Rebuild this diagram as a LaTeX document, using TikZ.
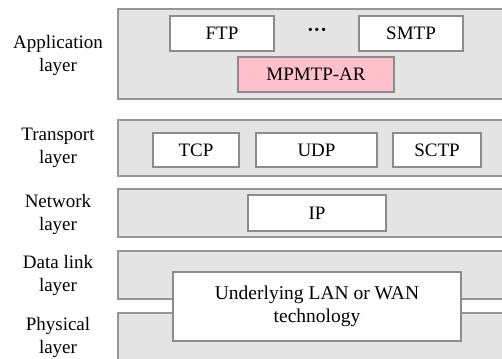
\documentclass[tikz,border=0pt]{standalone}
\usepackage{fontspec}
\setmainfont{Liberation Serif}
\definecolor{bandfill}{RGB}{228,228,228}
\definecolor{bandline}{RGB}{150,150,150}
\definecolor{boxline}{RGB}{140,140,140}
\definecolor{pinkfill}{RGB}{255,192,203}
\begin{document}
\begin{tikzpicture}[x=1pt,y=-1pt,
  bandfillst/.style={fill=bandfill},
  band/.style={draw=bandline,line width=1.1pt},
  pbox/.style={draw=boxline,fill=white,line width=1.1pt,inner sep=0pt,font=\fontsize{19}{23}\selectfont},
  lab/.style={align=center,font=\fontsize{19}{23}\selectfont,inner sep=0pt}]
\useasboundingbox (0,0) rectangle (502,358);
\clip (0,0) rectangle (502,358);
% bands
\fill[bandfillst] (118,9) rectangle (510,99);
\draw[band] (510,9) -- (118,9) -- (118,99) -- (510,99);
\fill[bandfillst] (118,120) rectangle (510,176);
\draw[band] (510,120) -- (118,120) -- (118,176) -- (510,176);
\fill[bandfillst] (118,189) rectangle (510,237);
\draw[band] (510,189) -- (118,189) -- (118,237) -- (510,237);
\fill[bandfillst] (118,251) rectangle (510,299);
\draw[band] (510,251) -- (118,251) -- (118,299) -- (510,299);
\fill[bandfillst] (118,313) rectangle (510,370);
\draw[band] (510,313) -- (118,313) -- (118,370);
% labels
\node[lab] (lapp) at (58,55) {Application\\layer};
\node[lab] (ltra) at (58,148) {Transport\\layer};
\node[lab] (lnet) at (58,214) {Network\\layer};
\node[lab] (ldl) at (58,275) {Data link\\layer};
\node[lab] (lphy) at (58,337) {Physical\\layer};
% application
\node[pbox,minimum width=104pt,minimum height=35pt] (ftp) at (222,33.5) {FTP};
\node[font=\fontsize{20}{22}\selectfont\bfseries,inner sep=0pt] (dots) at (317,32) {···};
\node[pbox,minimum width=104pt,minimum height=35pt] (smtp) at (411,33.5) {SMTP};
\node[pbox,fill=pinkfill,minimum width=156pt,minimum height=35pt] (mp) at (316,74.5) {MPMTP-AR};
% transport
\node[pbox,minimum width=86pt,minimum height=34pt] (tcp) at (196,150) {TCP};
\node[pbox,minimum width=121pt,minimum height=34pt] (udp) at (316.5,150) {UDP};
\node[pbox,minimum width=88pt,minimum height=34pt] (sctp) at (437,150) {SCTP};
% network
\node[pbox,minimum width=138pt,minimum height=36pt] (ip) at (317,213) {IP};
% underlying
\node[pbox,minimum width=288pt,minimum height=69pt,align=center,font=\fontsize{19.5}{23}\selectfont] (ul) at (317,306.5) {Underlying LAN or WAN\\technology};
\end{tikzpicture}
\end{document}
